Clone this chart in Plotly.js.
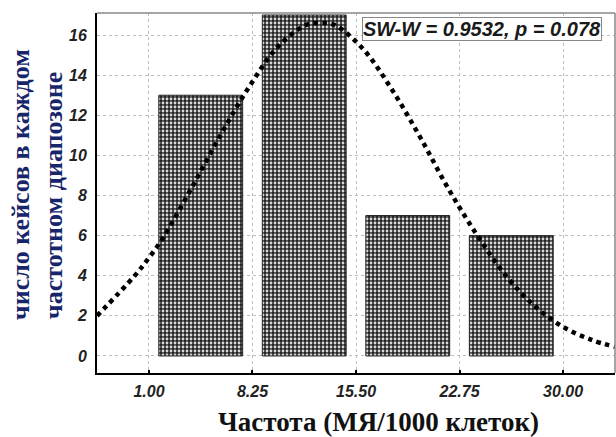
<!DOCTYPE html>
<html>
<head>
<meta charset="utf-8">
<script src="https://cdn.plot.ly/plotly-3.0.1.min.js"></script>
<style>html,body{margin:0;padding:0;background:#fff;}#chart{width:616px;height:437px;}</style>
</head>
<body>
<div id="chart"></div>
<script>
// Histogram bins (bin centres) and counts
const binCenters = [4.625, 11.875, 19.125, 26.375];
const counts = [13, 17, 7, 6];
// Expected-normal curve
const curveX = [-2.64, 0, 1, 2, 4, 6, 8, 10, 12, 13, 14, 16, 18, 20, 22, 24, 26, 28, 30, 32, 33.64];
const curveY = [2.0, 4.0, 4.9, 5.9, 8.4, 11.0, 13.4, 15.4, 16.5, 16.6, 16.5, 15.3, 13.3, 10.9, 8.3, 6.0, 4.0, 2.5, 1.45, 0.8, 0.45];
// Axis ticks
const xTickVals = [1, 8.25, 15.5, 22.75, 30];
const xTickText = ['1.00', '8.25', '15.50', '22.75', '30.00'];
const yTickVals = [0, 2, 4, 6, 8, 10, 12, 14, 16];
// Texts
const statText = 'SW-W = 0.9532, p = 0.078';
const xTitle = 'Частота (МЯ/1000 клеток)';
const yTitle1 = 'число кейсов в каждом';
const yTitle2 = 'частотном диапозоне';

const tickFont = {family: 'Liberation Sans, Arial, sans-serif', size: 16, color: '#222', weight: 'bold', style: 'italic'};

const traces = [
  {
    type: 'bar', x: binCenters, y: counts,
    marker: {
      color: '#262626',
      line: {color: '#222', width: 1},
      pattern: {shape: '.', bgcolor: '#262626', fgcolor: '#d8d8d8', size: 4, solidity: 0.38}
    },
    hoverinfo: 'skip'
  },
  {
    type: 'scatter', mode: 'lines', x: curveX, y: curveY,
    line: {color: '#000', width: 4.5, dash: 'dot', shape: 'spline'},
    hoverinfo: 'skip'
  }
];

const layout = {
  width: 616, height: 437,
  margin: {l: 97, r: 1, t: 13, b: 64},
  paper_bgcolor: '#fff', plot_bgcolor: '#fff',
  showlegend: false,
  bargap: 0.19,
  xaxis: {
    range: [-2.64, 33.64],
    tickvals: xTickVals, ticktext: xTickText,
    tickfont: tickFont,
    showgrid: true, gridcolor: '#bdbdbd', griddash: 'dot', gridwidth: 1,
    zeroline: false,
    showline: true, linecolor: '#000', linewidth: 2,
    ticks: 'inside', ticklen: 3, tickwidth: 2, tickcolor: '#000',
    ticklabelstandoff: 3
  },
  yaxis: {
    range: [-0.85, 17.1],
    tickvals: yTickVals,
    tickfont: tickFont,
    showgrid: true, gridcolor: '#bdbdbd', griddash: 'dot', gridwidth: 1,
    zeroline: false,
    showline: true, linecolor: '#000', linewidth: 2,
    ticks: '', ticklabelstandoff: 5
  },
  shapes: [
    {type: 'line', xref: 'paper', yref: 'paper', x0: 0, x1: 1, y0: 1, y1: 1, line: {color: '#888', width: 1.5}},
    {type: 'line', xref: 'paper', yref: 'paper', x0: 1, x1: 1, y0: 0, y1: 1, line: {color: '#888', width: 1.5}}
  ],
  annotations: [
    {
      xref: 'paper', yref: 'paper', x: 0.975, y: 0.99, xanchor: 'right', yanchor: 'top',
      text: statText, showarrow: false,
      font: {family: 'Liberation Sans, Arial, sans-serif', size: 20, color: '#1a1a1a', weight: 'bold', style: 'italic'},
      bgcolor: '#fff', bordercolor: '#888', borderwidth: 1, borderpad: 0
    },
    {
      xref: 'paper', yref: 'paper', x: (378 - 97) / 518, y: -(422 - 373) / 360, xanchor: 'center', yanchor: 'middle',
      text: xTitle, showarrow: false,
      font: {family: 'Liberation Serif, Times New Roman, serif', size: 27, color: '#111', weight: 'bold'}
    },
    {
      xref: 'paper', yref: 'paper', x: -(97 - 20) / 518, y: (373 - 185) / 360, xanchor: 'center', yanchor: 'middle',
      text: yTitle1, showarrow: false, textangle: -90,
      font: {family: 'Liberation Serif, Times New Roman, serif', size: 26, color: '#17256a', weight: 'bold'}
    },
    {
      xref: 'paper', yref: 'paper', x: -(97 - 53) / 518, y: (373 - 196) / 360, xanchor: 'center', yanchor: 'middle',
      text: yTitle2, showarrow: false, textangle: -90,
      font: {family: 'Liberation Serif, Times New Roman, serif', size: 26, color: '#17256a', weight: 'bold'}
    }
  ]
};

Plotly.newPlot('chart', traces, layout, {displayModeBar: false, staticPlot: true});
</script>
</body>
</html>
